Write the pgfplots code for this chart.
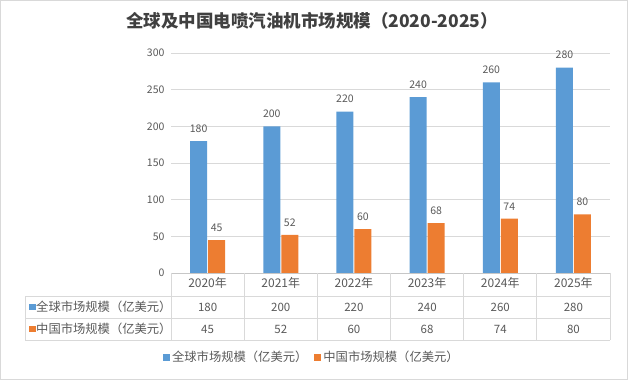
\documentclass[border=0pt]{standalone}
\usepackage{fontspec}
\setmainfont{Noto Sans CJK SC}
\usepackage{pgfplots}
\usepackage{pgfplotstable}
\pgfplotsset{compat=1.18}
\definecolor{cblue}{HTML}{5B9BD5}
\definecolor{corange}{HTML}{ED7D31}
\definecolor{txt}{HTML}{595959}
\definecolor{gridc}{HTML}{D9D9D9}
\definecolor{titlec}{HTML}{404040}
\pgfplotstableread{
x global china
0 180 45
1 200 52
2 220 60
3 240 68
4 260 74
5 280 80
}\data
\begin{document}
\begin{tikzpicture}[x=1pt,y=1pt]
\path (0pt,0pt) rectangle (628pt,380pt);
\draw[gridc] (0.5pt,0.5pt) rectangle (627.5pt,379.5pt);
\node[font=\fontsize{17.5}{20}\selectfont\bfseries, text=titlec] at (312pt,359pt) {全球及中国电喷汽油机市场规模（2020-2025）};
\begin{axis}[
  at={(171pt,107pt)}, anchor=south west, scale only axis,
  width=439pt, height=220pt,
  xmin=-0.5, xmax=5.5, ymin=0, ymax=300,
  ybar=1pt, bar width=17pt,
  axis line style={draw=none},
  ytick={0,50,...,300},
  ymajorgrids, grid style={gridc, line width=0.6pt},
  major tick length=0pt,
  xtick=data,
  xticklabels={2020年,2021年,2022年,2023年,2024年,2025年},
  xticklabel style={font=\fontsize{12}{14}\selectfont, text=txt, yshift=-1pt},
  yticklabel style={font=\fontsize{10.5}{12}\selectfont, text=txt, xshift=-3pt},
  /pgf/number format/assume math mode=true,
  nodes near coords,
  every node near coord/.append style={font=\fontsize{10.5}{12}\selectfont, text=txt, yshift=5pt},
  clip=false,
  legend columns=2,
  legend style={at={(0.321,-0.382)}, anchor=center, draw=none, fill=none,
    font=\fontsize{12.3}{14}\selectfont, text=txt,
    /tikz/every even column/.append style={column sep=5pt}},
  legend image code/.code={\fill[#1,draw=none] (0pt,-3.5pt) rectangle (7pt,3.5pt);},
]
\addplot[fill=cblue, draw=none] table[x=x, y=global] {\data};
\addplot[fill=corange, draw=none] table[x=x, y=china] {\data};
\legend{全球市场规模（亿美元）, 中国市场规模（亿美元）}
\end{axis}
% axis line
\draw[gridc!80!gray, line width=0.7pt] (171pt,107pt) -- (610pt,107pt);
% data table
\draw[gridc, line width=0.7pt] (25pt,84pt) -- (610pt,84pt) (25pt,62pt) -- (610pt,62pt) (25pt,40pt) -- (610pt,40pt);
\draw[gridc, line width=0.7pt] (25pt,84pt) -- (25pt,40pt);
\foreach \k in {0,...,6} {\draw[gridc, line width=0.7pt] ({171pt+73.1667pt*\k},107pt) -- ({171pt+73.1667pt*\k},40pt);}
\fill[cblue] (29pt,70pt) rectangle (35.5pt,76.5pt);
\node[anchor=west, inner sep=0pt, font=\fontsize{12.3}{14}\selectfont, text=txt] at (36pt,73pt) {全球市场规模（亿美元）};
\fill[corange] (29pt,48pt) rectangle (35.5pt,54.5pt);
\node[anchor=west, inner sep=0pt, font=\fontsize{12.3}{14}\selectfont, text=txt] at (36pt,51pt) {中国市场规模（亿美元）};
\foreach \g/\c [count=\i from 0] in {180/45,200/52,220/60,240/68,260/74,280/80} {
  \node[font=\fontsize{11.5}{13}\selectfont, text=txt] at ({207.58pt+73.1667pt*\i},73pt) {\g};
  \node[font=\fontsize{11.5}{13}\selectfont, text=txt] at ({207.58pt+73.1667pt*\i},51pt) {\c};
}
\end{tikzpicture}
\end{document}
